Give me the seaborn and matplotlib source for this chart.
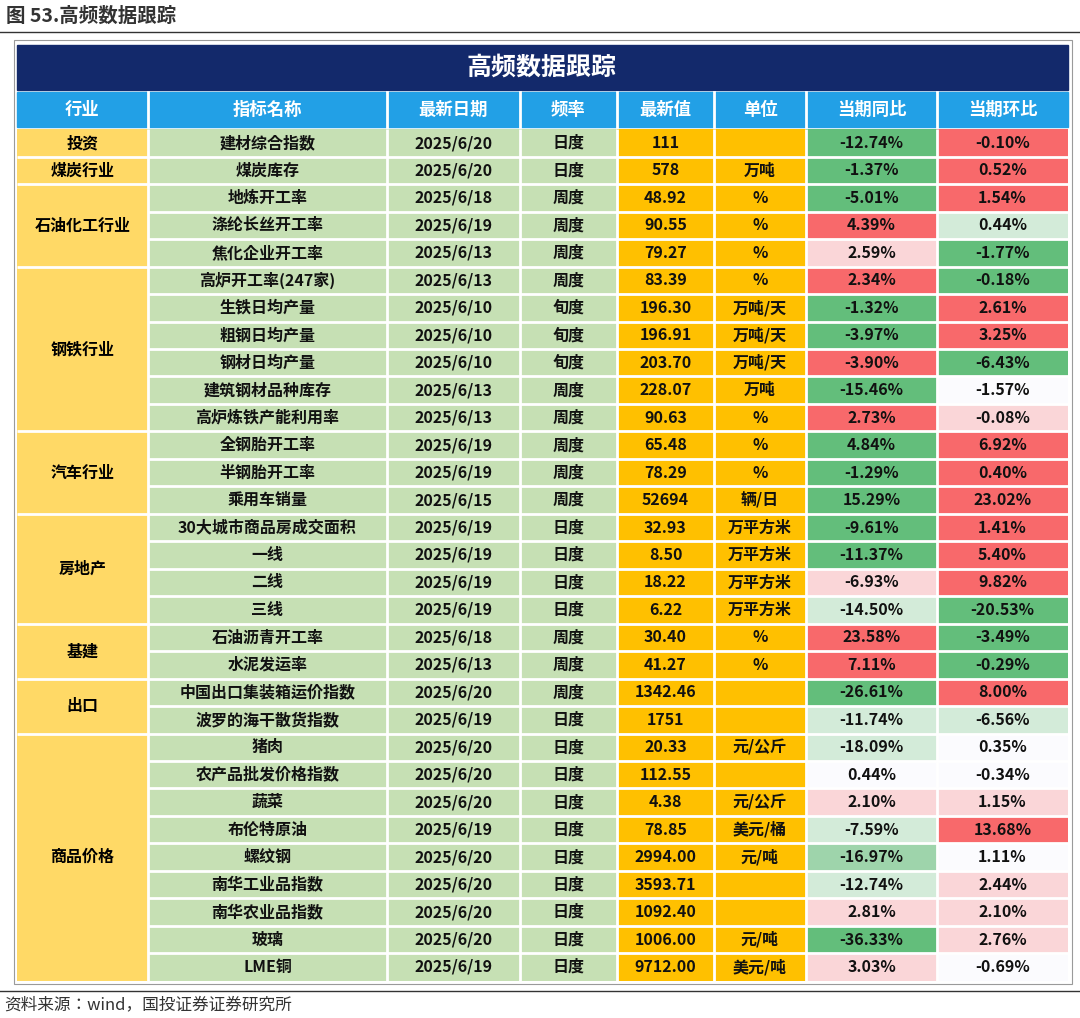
import numpy as np
import matplotlib
matplotlib.use("Agg")
import matplotlib.pyplot as plt
from matplotlib import font_manager
from matplotlib.colors import ListedColormap
from matplotlib.patches import Rectangle
import seaborn as sns

_names = sorted({f.name for f in font_manager.fontManager.ttflist if "CJK" in f.name})
_pref = [n for n in ["Noto Sans CJK SC", "Noto Sans CJK JP", "Noto Sans CJK TC", "Noto Sans CJK KR"] if n in _names]
cjk = (_pref or _names or ["DejaVu Sans"])
plt.rcParams["font.family"] = "sans-serif"
plt.rcParams["font.sans-serif"] = cjk + ["DejaVu Sans"]

headers = ["行业", "指标名称", "最新日期", "频率", "最新值", "单位", "当期同比", "当期环比"]
groups = [("投资", 1), ("煤炭行业", 1), ("石油化工行业", 3), ("钢铁行业", 6), ("汽车行业", 3),
          ("房地产", 4), ("基建", 2), ("出口", 2), ("商品价格", 9)]
names = ["建材综合指数", "煤炭库存", "地炼开工率", "涤纶长丝开工率", "焦化企业开工率",
         "高炉开工率(247家)", "生铁日均产量", "粗钢日均产量", "钢材日均产量", "建筑钢材品种库存", "高炉炼铁产能利用率",
         "全钢胎开工率", "半钢胎开工率", "乘用车销量",
         "30大城市商品房成交面积", "一线", "二线", "三线",
         "石油沥青开工率", "水泥发运率",
         "中国出口集装箱运价指数", "波罗的海干散货指数",
         "猪肉", "农产品批发价格指数", "蔬菜", "布伦特原油", "螺纹钢", "南华工业品指数", "南华农业品指数", "玻璃", "LME铜"]
dates = ["2025/6/20", "2025/6/20", "2025/6/18", "2025/6/19", "2025/6/13",
         "2025/6/13", "2025/6/10", "2025/6/10", "2025/6/10", "2025/6/13", "2025/6/13",
         "2025/6/19", "2025/6/19", "2025/6/15",
         "2025/6/19", "2025/6/19", "2025/6/19", "2025/6/19",
         "2025/6/18", "2025/6/13",
         "2025/6/20", "2025/6/19",
         "2025/6/20", "2025/6/20", "2025/6/20", "2025/6/19", "2025/6/20", "2025/6/20", "2025/6/20", "2025/6/20", "2025/6/19"]
freqs = ["日度", "日度", "周度", "周度", "周度",
         "周度", "旬度", "旬度", "旬度", "周度", "周度",
         "周度", "周度", "周度",
         "日度", "日度", "日度", "日度",
         "周度", "周度",
         "周度", "日度",
         "日度", "日度", "日度", "日度", "日度", "日度", "日度", "日度", "日度"]
latest = ["111", "578", "48.92", "90.55", "79.27",
          "83.39", "196.30", "196.91", "203.70", "228.07", "90.63",
          "65.48", "78.29", "52694",
          "32.93", "8.50", "18.22", "6.22",
          "30.40", "41.27",
          "1342.46", "1751",
          "20.33", "112.55", "4.38", "78.85", "2994.00", "3593.71", "1092.40", "1006.00", "9712.00"]
units = ["", "万吨", "%", "%", "%",
         "%", "万吨/天", "万吨/天", "万吨/天", "万吨", "%",
         "%", "%", "辆/日",
         "万平方米", "万平方米", "万平方米", "万平方米",
         "%", "%",
         "", "",
         "元/公斤", "", "元/公斤", "美元/桶", "元/吨", "", "", "元/吨", "美元/吨"]
yoy = ["-12.74%", "-1.37%", "-5.01%", "4.39%", "2.59%",
       "2.34%", "-1.32%", "-3.97%", "-3.90%", "-15.46%", "2.73%",
       "4.84%", "-1.29%", "15.29%",
       "-9.61%", "-11.37%", "-6.93%", "-14.50%",
       "23.58%", "7.11%",
       "-26.61%", "-11.74%",
       "-18.09%", "0.44%", "2.10%", "-7.59%", "-16.97%", "-12.74%", "2.81%", "-36.33%", "3.03%"]
mom = ["-0.10%", "0.52%", "1.54%", "0.44%", "-1.77%",
       "-0.18%", "2.61%", "3.25%", "-6.43%", "-1.57%", "-0.08%",
       "6.92%", "0.40%", "23.02%",
       "1.41%", "5.40%", "9.82%", "-20.53%",
       "-3.49%", "-0.29%",
       "8.00%", "-6.56%",
       "0.35%", "-0.34%", "1.15%", "13.68%", "1.11%", "2.44%", "2.10%", "2.76%", "-0.69%"]
yoy_shade = ["G", "G", "G", "R", "p", "R", "G", "G", "R", "G", "R", "G", "G", "G",
             "G", "G", "p", "g", "R", "R", "G", "g",
             "g", "w", "p", "g", "M", "g", "p", "G", "p"]
mom_shade = ["R", "R", "R", "g", "G", "G", "R", "R", "G", "w", "p", "R", "R", "R",
             "R", "R", "R", "G", "G", "G", "R", "g",
             "w", "w", "p", "R", "w", "p", "p", "p", "w"]

palette = ["#FFD966", "#C6E0B4", "#FFC000", "#63BE7B", "#9ED4AB", "#D3EBD9", "#FBFBFE", "#FAD6D8", "#F8696B"]
shade_idx = {"G": 3, "M": 4, "g": 5, "w": 6, "p": 7, "R": 8}

col_w = [131, 239, 133, 97, 97, 92, 131, 131]
nrow = len(names)
code = np.array([[0, 1, 1, 1, 2, 2, shade_idx[yoy_shade[r]], shade_idx[mom_shade[r]]] for r in range(nrow)])
mat = np.repeat(code, col_w, axis=1)

W, H = 1080, 1018
fig = plt.figure(figsize=(W / 100, H / 100), dpi=100)

def fx(x): return x / W
def fy(y): return 1 - y / H

top, bot = 129.3, 980.7
ax = fig.add_axes([fx(17), fy(bot), fx(1068) - fx(17), fy(top) - fy(bot)])
sns.heatmap(mat, cmap=ListedColormap(palette), vmin=-0.5, vmax=len(palette) - 0.5,
            cbar=False, ax=ax, linewidths=0, xticklabels=False, yticklabels=False)
total = sum(col_w)
ax.set_xlim(0, total)
ax.set_ylim(nrow, 0)
edges = np.concatenate([[0], np.cumsum(col_w)])

for e in edges[1:-1]:
    ax.vlines(e, 0, nrow, color="white", lw=2)
gb = np.cumsum([g[1] for g in groups])
for r in range(1, nrow):
    x0 = 0 if r in gb else col_w[0]
    ax.hlines(r, x0, total, color="white", lw=2)

cx = (edges[:-1] + edges[1:]) / 2
fs = 11.5
start = 0
for g, n in groups:
    ax.text(cx[0], start + n / 2, g, ha="center", va="center", fontsize=fs, weight="bold")
    start += n
for r in range(nrow):
    vals = [names[r], dates[r], freqs[r], latest[r], units[r], yoy[r], mom[r]]
    for c, v in enumerate(vals, start=1):
        ax.text(cx[c], r + 0.5, v, ha="center", va="center", fontsize=fs, weight="bold", color="#111111")

fig.patches.append(Rectangle((fx(17), fy(90)), fx(1068) - fx(17), fy(45) - fy(90),
                             transform=fig.transFigure, color="#13296B"))
fig.text(fx(542), fy(68), "高频数据跟踪", ha="center", va="center", fontsize=18, weight="bold", color="white")
fig.patches.append(Rectangle((fx(17), fy(127)), fx(1068) - fx(17), fy(92) - fy(127),
                             transform=fig.transFigure, color="#22A0E6"))
for i, h in enumerate(headers):
    fig.text(fx(17 + cx[i]), fy(110), h, ha="center", va="center", fontsize=12.5, weight="bold", color="white")
    if i > 0:
        fig.lines.append(plt.Line2D([fx(17 + edges[i])] * 2, [fy(127), fy(92)], transform=fig.transFigure,
                                    color="white", lw=2))
fig.patches.append(Rectangle((fx(14), fy(984)), fx(1072) - fx(14), fy(40) - fy(984),
                             transform=fig.transFigure, fill=False, ec="#9A9A9A", lw=0.8))

fig.text(fx(6), fy(16), "图 53.高频数据跟踪", ha="left", va="center", fontsize=14, weight="bold", color="#333333")
fig.lines.append(plt.Line2D([0, 1], [fy(32), fy(32)], transform=fig.transFigure, color="#333333", lw=1))
fig.lines.append(plt.Line2D([0, 1], [fy(991), fy(991)], transform=fig.transFigure, color="#333333", lw=1))
fig.text(fx(4), fy(1005), "资料来源：wind，国投证券证券研究所", ha="left", va="center", fontsize=12,
         style="italic", color="#333333")

fig.savefig("out.png", dpi=100)
